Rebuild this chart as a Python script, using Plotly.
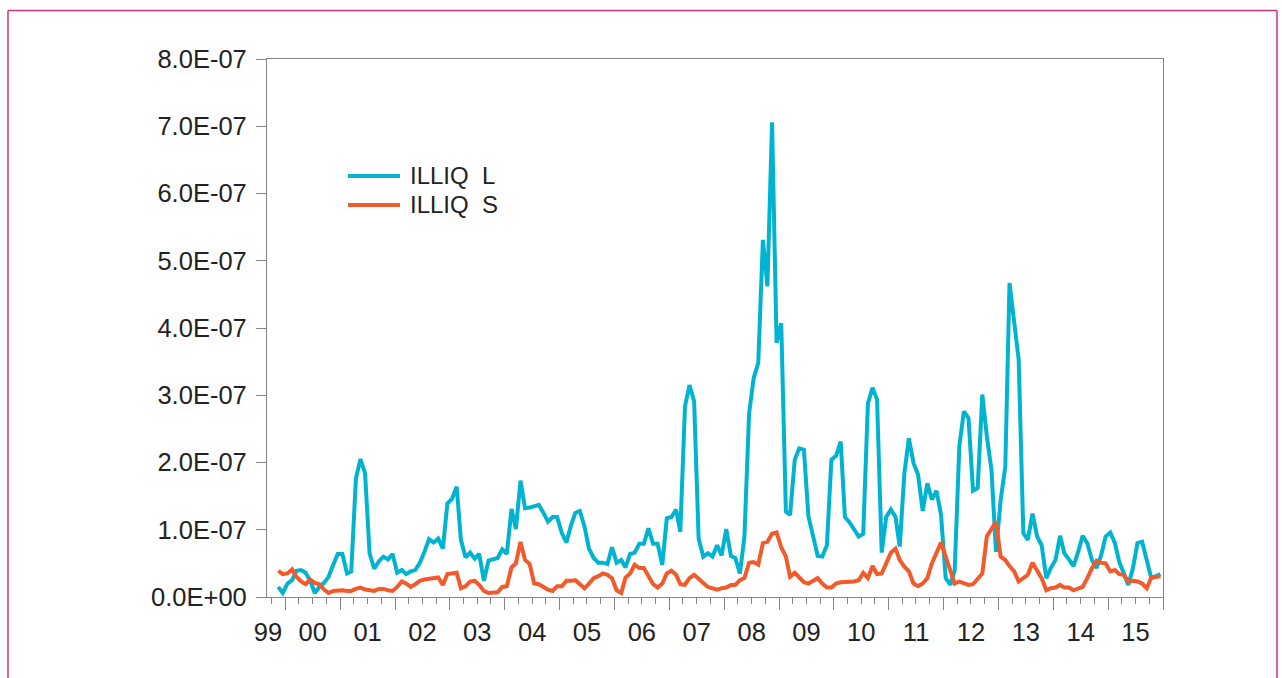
import pandas as pd
import plotly.graph_objects as go

# Monthly Amihud illiquidity, Nov 1999 - Dec 2015, in units of 1e-8
illiq_l = [
    1.5, 0.6,
    2.0, 2.5, 3.9, 4.0, 3.6, 2.4, 0.6, 1.5, 2.1, 3.0, 4.8, 6.4,
    6.4, 3.5, 3.8, 17.6, 20.5, 18.4, 6.5, 4.2, 5.3, 6.0, 5.6, 6.4,
    3.6, 4.0, 3.4, 3.8, 4.0, 5.1, 6.7, 8.6, 8.1, 8.7, 7.2, 13.9,
    14.6, 16.4, 8.5, 5.9, 6.6, 5.7, 6.4, 2.4, 5.4, 5.6, 5.8, 7.1,
    6.4, 13.1, 10.1, 17.3, 13.2, 13.3, 13.5, 13.7, 12.5, 11.2, 11.9, 11.9,
    9.5, 8.1, 10.5, 12.5, 12.8, 10.5, 7.2, 5.8, 5.1, 5.1, 4.9, 7.4,
    5.1, 5.5, 4.4, 6.4, 6.6, 7.9, 7.9, 10.2, 7.9, 7.9, 4.8, 11.7,
    11.9, 13.0, 9.7, 28.3, 31.5, 29.1, 8.7, 6.0, 6.5, 6.0, 7.7, 6.2,
    10.1, 6.1, 5.8, 3.5, 9.0, 27.3, 32.5, 34.8, 53.1, 46.2, 70.6, 37.8,
    40.7, 12.7, 12.2, 20.4, 22.1, 21.9, 12.0, 9.2, 6.1, 6.0, 7.7, 20.4,
    21.0, 23.1, 11.9, 11.1, 10.1, 9.0, 9.4, 28.8, 31.1, 29.4, 6.6, 11.9,
    13.0, 11.9, 7.5, 18.4, 23.6, 19.9, 18.2, 12.8, 16.9, 14.5, 15.8, 12.2,
    2.8, 1.8, 4.0, 22.4, 27.6, 26.6, 15.8, 16.2, 30.1, 23.9, 18.9, 6.7,
    14.4, 19.4, 46.7, 41.0, 35.3, 9.5, 8.5, 12.4, 9.0, 7.7, 2.8, 4.3,
    5.5, 9.1, 6.5, 5.6, 4.6, 6.7, 9.1, 8.0, 5.5, 4.3, 6.2, 9.0,
    9.6, 8.0, 5.3, 3.5, 1.8, 4.3, 8.0, 8.2, 5.5, 2.8, 3.1, 3.4,
]
illiq_s = [
    3.9, 3.4,
    3.5, 4.1, 3.0, 2.3, 1.9, 2.6, 2.1, 1.9, 1.1, 0.6, 0.9, 1.0,
    1.0, 0.9, 0.9, 1.2, 1.4, 1.1, 1.0, 0.9, 1.2, 1.2, 1.0, 0.9,
    1.5, 2.3, 2.0, 1.5, 1.9, 2.4, 2.6, 2.7, 2.8, 2.9, 1.8, 3.4,
    3.5, 3.6, 1.3, 1.6, 2.3, 2.4, 1.8, 0.9, 0.6, 0.6, 0.7, 1.5,
    1.6, 4.4, 5.0, 8.2, 5.5, 4.9, 2.0, 1.9, 1.5, 1.1, 0.9, 1.6,
    1.6, 2.4, 2.4, 2.5, 1.9, 1.3, 2.0, 2.8, 3.1, 3.5, 3.3, 2.8,
    1.0, 0.6, 2.9, 3.5, 4.8, 4.3, 4.3, 3.0, 1.9, 1.4, 2.0, 3.5,
    3.9, 3.3, 1.9, 1.8, 2.8, 3.3, 2.8, 2.1, 1.5, 1.3, 1.1, 1.3,
    1.4, 1.8, 1.8, 2.5, 2.8, 5.1, 5.2, 4.8, 8.0, 8.2, 9.4, 9.6,
    7.4, 6.0, 3.0, 3.6, 2.9, 2.2, 2.0, 2.4, 2.8, 2.0, 1.4, 1.4,
    2.0, 2.2, 2.2, 2.2, 2.3, 2.5, 3.6, 2.8, 4.6, 3.4, 3.5, 5.0,
    6.6, 7.2, 5.5, 4.5, 3.8, 2.0, 1.6, 2.0, 2.8, 5.0, 6.5, 8.1,
    6.0, 4.0, 2.0, 2.3, 2.0, 1.8, 1.9, 2.6, 3.5, 9.0, 10.0, 11.2,
    6.0, 5.5, 4.6, 3.8, 2.3, 2.8, 3.3, 5.1, 3.8, 2.8, 1.0, 1.3,
    1.4, 1.8, 1.4, 1.4, 1.0, 1.3, 1.5, 2.8, 4.3, 5.4, 5.1, 5.0,
    3.8, 4.0, 3.4, 3.3, 2.3, 2.4, 2.3, 2.0, 1.3, 2.9, 3.0, 3.1,
]
unit = 1e-8

series_names = ["ILLIQ\u00a0\u00a0L", "ILLIQ\u00a0\u00a0S"]
series_colors = ["#00b3d1", "#f15a2b"]

y_tick_values = [i * 1e-7 for i in range(9)]
y_tick_labels = ["0.0E+00", "1.0E-07", "2.0E-07", "3.0E-07", "4.0E-07",
                 "5.0E-07", "6.0E-07", "7.0E-07", "8.0E-07"]
year_labels = ["99", "00", "01", "02", "03", "04", "05", "06", "07",
               "08", "09", "10", "11", "12", "13", "14", "15"]

# observations sit in the middle of each month
months = pd.date_range("1999-11-01", "2015-12-01", freq="MS")
dates = months + pd.Timedelta(days=14)

x_start, x_end = "1999-09-01", "2016-01-01"
year_ticks = [f"{y}-01-01" for y in range(2000, 2017)]
label_pos = ["1999-09-08"] + [f"{y}-07-02" for y in range(2000, 2016)]

W, H = 1282, 678
L, R, T, B = 267, 1163, 59, 597
FONT = "Arial, Liberation Sans, sans-serif"
AXIS = "#858585"
TEXT = "#222222"


def px(x):
    return (x - L) / (R - L)


def py(y):
    return (B - y) / (B - T)


fig = go.Figure()
for vals, name, color in zip([illiq_l, illiq_s], series_names, series_colors):
    fig.add_trace(go.Scatter(
        x=dates, y=[v * unit for v in vals], mode="lines", name=name,
        line=dict(color=color, width=4), showlegend=False,
        hoverinfo="x+y",
    ))

# invisible helper trace so the label axis is drawn
fig.add_trace(go.Scatter(x=[x_start, x_end], y=[0, 0], xaxis="x2",
                         mode="lines", line=dict(width=0), opacity=0,
                         showlegend=False, hoverinfo="skip"))

fig.update_layout(
    width=W, height=H,
    margin=dict(l=L, r=W - R, t=T, b=H - B),
    paper_bgcolor="white", plot_bgcolor="white",
    font=dict(family=FONT, size=25, color=TEXT),
    xaxis=dict(
        type="date", range=[x_start, x_end],
        tickmode="array", tickvals=year_ticks, showticklabels=False,
        ticks="outside", ticklen=12, tickwidth=1.3, tickcolor=AXIS,
        minor=dict(tick0="2000-01-01", dtick="M3", ticks="outside",
                   ticklen=6, tickwidth=1.3, tickcolor=AXIS),
        showgrid=False, zeroline=False,
        showline=True, linecolor=AXIS, linewidth=1.3, mirror=True,
    ),
    xaxis2=dict(
        type="date", range=[x_start, x_end], overlaying="x", side="bottom",
        tickmode="array", tickvals=label_pos, ticktext=year_labels,
        ticks="", showgrid=False, zeroline=False, showline=False,
        tickfont=dict(size=25.5, color=TEXT), ticklabelstandoff=17,
    ),
    yaxis=dict(
        range=[0, 8e-7], tickmode="array", tickvals=y_tick_values,
        ticktext=y_tick_labels, ticks="outside", ticklen=10, tickwidth=1.3,
        tickcolor=AXIS, showgrid=False, zeroline=False,
        showline=True, linecolor=AXIS, linewidth=1.3, mirror=True,
        tickfont=dict(size=25.5, color=TEXT), ticklabelstandoff=4,
    ),
)

# legend drawn inside the plot area
legend_rows = [176, 205]
for name, color, yy in zip(series_names, series_colors, legend_rows):
    fig.add_shape(type="line", xref="paper", yref="paper",
                  x0=px(348), x1=px(400), y0=py(yy), y1=py(yy),
                  line=dict(color=color, width=4))
    fig.add_annotation(xref="paper", yref="paper", x=px(408), y=py(yy - 1),
                       text=name, showarrow=False, xanchor="left",
                       yanchor="middle", font=dict(size=24, color=TEXT))

# outer frame of the page
frame = "#d1307e"
fig.add_shape(type="line", xref="paper", yref="paper",
              x0=px(8), x1=px(8), y0=py(10.5), y1=py(H + 10),
              line=dict(color=frame, width=1.5))
fig.add_shape(type="line", xref="paper", yref="paper",
              x0=px(8), x1=px(1277), y0=py(10.5), y1=py(10.5),
              line=dict(color=frame, width=1.5))
fig.add_shape(type="line", xref="paper", yref="paper",
              x0=px(1277), x1=px(1277), y0=py(10.5), y1=py(H + 10),
              line=dict(color=frame, width=1.5))

fig.write_html("out.html", config=dict(displayModeBar=False))
